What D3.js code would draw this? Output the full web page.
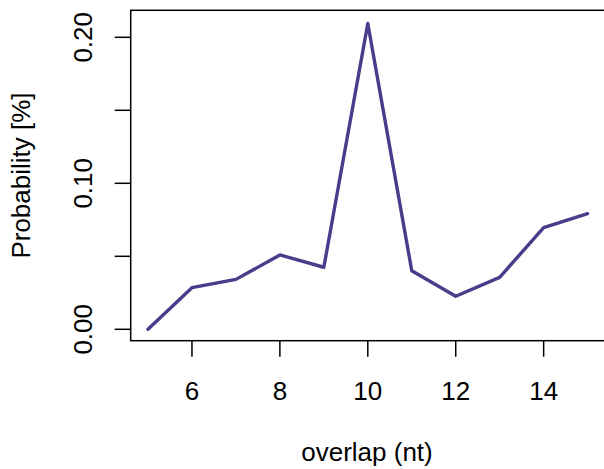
<!DOCTYPE html>
<html lang="en">
<head>
  <meta charset="UTF-8">
  <title>overlap</title>
  <style>
    body { margin: 0; background: #fff; }
    svg text { font-family: "Liberation Sans", Arial, sans-serif; fill: #000; }
  </style>
</head>
<body>
  <div id="container"></div>
  <script src="https://cdn.jsdelivr.net/npm/d3@7/dist/d3.min.js"></script>
  <script>
    // data
    const overlap = [5, 6, 7, 8, 9, 10, 11, 12, 13, 14, 15];
    const probability = [0.000, 0.0285, 0.0342, 0.0509, 0.0425, 0.2095, 0.0401, 0.0226, 0.0356, 0.0696, 0.0792];
    const xTicks = [6, 8, 10, 12, 14];
    const yTicks = [0, 0.05, 0.10, 0.15, 0.20];
    const yLabels = ['0.00', '', '0.10', '', '0.20'];

    const width = 604, height = 469;
    const fontSize = 26;

    const svg = d3.select('#container').append('svg')
      .attr('width', width)
      .attr('height', height);

    // scales (R style: box a bit wider than the data)
    const x = d3.scaleLinear().domain([5, 15]).range([148, 587.6]);
    const y = d3.scaleLinear().domain([0, 0.2]).range([329.3, 37.3]);

    const box = { x0: 130.7, x1: 605.5, y0: 10.3, y1: 340.7 };

    svg.append('rect')
      .attr('x', box.x0).attr('y', box.y0)
      .attr('width', box.x1 - box.x0).attr('height', box.y1 - box.y0)
      .attr('fill', 'none').attr('stroke', '#000').attr('stroke-width', 1.5);

    // x axis
    const xAxis = svg.append('g');
    xAxis.selectAll('line').data(xTicks).enter().append('line')
      .attr('x1', d => x(d)).attr('x2', d => x(d))
      .attr('y1', box.y1).attr('y2', box.y1 + 16)
      .attr('stroke', '#000').attr('stroke-width', 1.5);
    xAxis.selectAll('text').data(xTicks).enter().append('text')
      .attr('x', d => x(d)).attr('y', 400)
      .attr('text-anchor', 'middle')
      .style('font-size', fontSize + 'px')
      .text(d => d);

    // y axis
    const yAxis = svg.append('g');
    yAxis.selectAll('line').data(yTicks).enter().append('line')
      .attr('x1', box.x0 - 16).attr('x2', box.x0)
      .attr('y1', d => y(d)).attr('y2', d => y(d))
      .attr('stroke', '#000').attr('stroke-width', 1.5);
    yAxis.selectAll('text').data(yTicks).enter().append('text')
      .attr('transform', d => `translate(92,${y(d)}) rotate(-90)`)
      .attr('text-anchor', 'middle')
      .style('font-size', fontSize + 'px')
      .text((d, i) => yLabels[i]);

    // axis titles
    svg.append('text')
      .attr('x', 367)
      .attr('y', 461)
      .attr('text-anchor', 'middle')
      .style('font-size', fontSize + 'px')
      .text('overlap (nt)');

    svg.append('text')
      .attr('transform', `translate(30,${(box.y0 + box.y1) / 2}) rotate(-90)`)
      .attr('text-anchor', 'middle')
      .style('font-size', fontSize + 'px')
      .text('Probability [%]');

    // the line
    const line = d3.line()
      .x((d, i) => x(overlap[i]))
      .y(d => y(d));

    svg.append('path')
      .datum(probability)
      .attr('d', line)
      .attr('fill', 'none')
      .attr('stroke', '#483D8B')
      .attr('stroke-width', 3.4)
      .attr('stroke-linejoin', 'round')
      .attr('stroke-linecap', 'round');
  </script>
</body>
</html>
